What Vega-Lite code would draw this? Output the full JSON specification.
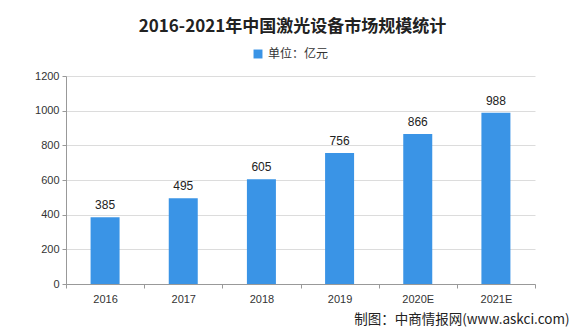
{
  "$schema": "https://vega.github.io/schema/vega-lite/v6.json",
  "width": 469,
  "height": 208,
  "autosize": "none",
  "padding": {"left": 66, "top": 76, "right": 46, "bottom": 50},
  "background": "#ffffff",
  "title": {
    "text": "2016-2021年中国激光设备市场规模统计",
    "fontSize": 17,
    "fontWeight": "bold",
    "font": "Noto Sans CJK SC",
    "color": "#222222",
    "anchor": "middle",
    "dx": -8,
    "offset": 12
  },
  "data": {
    "values": [
      {"year": "2016", "value": 385, "series": "单位：亿元"},
      {"year": "2017", "value": 495, "series": "单位：亿元"},
      {"year": "2018", "value": 605, "series": "单位：亿元"},
      {"year": "2019", "value": 756, "series": "单位：亿元"},
      {"year": "2020E", "value": 866, "series": "单位：亿元"},
      {"year": "2021E", "value": 988, "series": "单位：亿元"}
    ]
  },
  "encoding": {
    "x": {
      "field": "year",
      "type": "nominal",
      "sort": null,
      "scale": {"paddingInner": 0, "paddingOuter": 0},
      "axis": {
        "title": "制图：中商情报网(www.askci.com)",
        "titleX": 503,
        "titleAlign": "right",
        "titleFontSize": 13.5,
        "titleFontWeight": "normal",
        "titleColor": "#222222",
        "titleFont": "Noto Sans CJK SC",
        "titlePadding": 8,
        "labelAngle": 0,
        "labelFontSize": 11,
        "labelColor": "#333333",
        "labelPadding": 5,
        "domainColor": "#999999",
        "tickColor": "#999999",
        "tickBand": "extent",
        "tickSize": 4,
        "grid": false
      }
    },
    "y": {
      "field": "value",
      "type": "quantitative",
      "scale": {"domain": [0, 1200]},
      "axis": {
        "title": null,
        "values": [0, 200, 400, 600, 800, 1000, 1200],
        "format": "d",
        "labelFontSize": 11,
        "labelColor": "#333333",
        "labelPadding": 3,
        "domainColor": "#999999",
        "tickColor": "#999999",
        "tickSize": 4,
        "gridColor": "#DCDCDC"
      }
    }
  },
  "layer": [
    {
      "mark": {"type": "bar", "width": 29},
      "encoding": {
        "color": {
          "field": "series",
          "type": "nominal",
          "scale": {"range": ["#3A94E6"]},
          "legend": {
            "title": null,
            "orient": "none",
            "legendX": 186,
            "legendY": -28,
            "symbolType": "square",
            "symbolSize": 80,
            "labelFontSize": 12,
            "labelColor": "#333333",
            "labelFont": "Noto Sans CJK SC"
          }
        }
      }
    },
    {
      "mark": {"type": "text", "dy": -12, "fontSize": 12, "color": "#222222"},
      "encoding": {"text": {"field": "value", "type": "quantitative"}}
    }
  ],
  "config": {"view": {"stroke": null}}
}
